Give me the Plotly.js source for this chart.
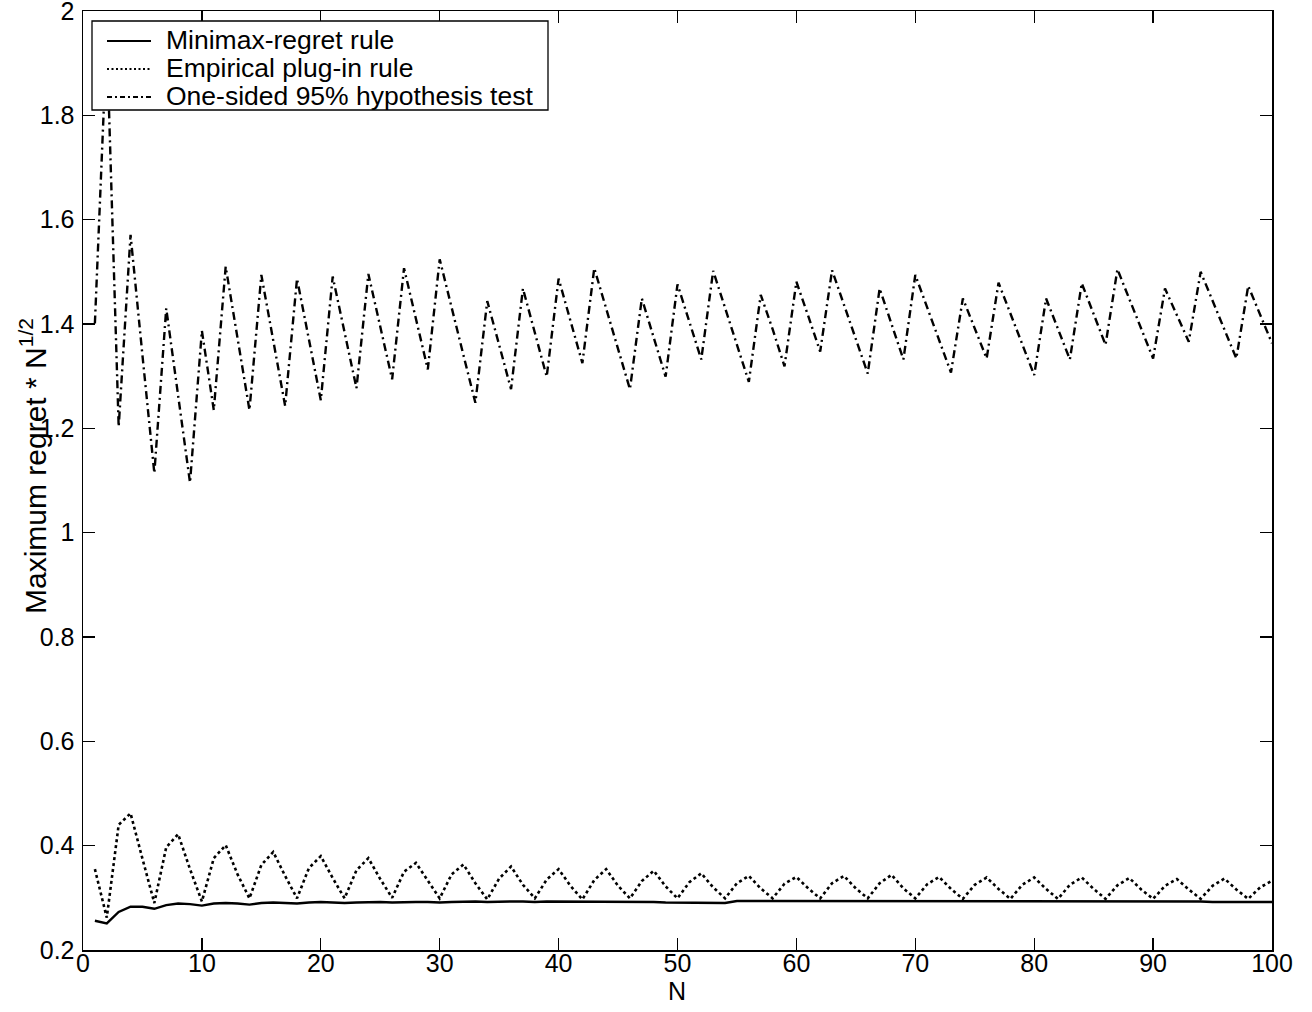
<!DOCTYPE html>
<html>
<head>
<meta charset="utf-8">
<script src="https://cdn.plot.ly/plotly-3.0.1.min.js"></script>
<style>
html,body{margin:0;padding:0;background:#fff;}
#chart{width:1312px;height:1012px;}
</style>
</head>
<body>
<div id="chart"></div>
<script>
const sampleSize = Array.from({length: 100}, (_, i) => i + 1);

const minimaxRegret = [
  0.256, 0.251, 0.273, 0.283, 0.283, 0.279, 0.286, 0.289, 0.288, 0.285,
  0.289, 0.290, 0.289, 0.287, 0.290, 0.291, 0.290, 0.289, 0.291, 0.292,
  0.291, 0.290, 0.291, 0.292, 0.292, 0.291, 0.292, 0.292, 0.292, 0.291,
  0.292, 0.293, 0.293, 0.292, 0.293, 0.293, 0.293, 0.292, 0.293, 0.293,
  0.293, 0.293, 0.293, 0.293, 0.293, 0.292, 0.292, 0.292, 0.291, 0.291,
  0.291, 0.290, 0.290, 0.290, 0.294, 0.294, 0.294, 0.294, 0.294, 0.294,
  0.294, 0.294, 0.294, 0.294, 0.294, 0.294, 0.294, 0.294, 0.294, 0.294,
  0.294, 0.294, 0.294, 0.294, 0.294, 0.294, 0.294, 0.294, 0.294, 0.294,
  0.294, 0.294, 0.294, 0.294, 0.294, 0.294, 0.294, 0.294, 0.294, 0.294,
  0.294, 0.293, 0.293, 0.293, 0.292, 0.292, 0.292, 0.292, 0.292, 0.292
];

const empiricalPlugIn = [
  0.355, 0.262, 0.440, 0.462, 0.375, 0.290, 0.397, 0.422, 0.355, 0.293,
  0.376, 0.401, 0.345, 0.299, 0.363, 0.388, 0.342, 0.299, 0.357, 0.380,
  0.338, 0.299, 0.353, 0.376, 0.336, 0.300, 0.350, 0.367, 0.333, 0.299,
  0.345, 0.364, 0.328, 0.297, 0.337, 0.360, 0.325, 0.299, 0.335, 0.355,
  0.323, 0.297, 0.334, 0.355, 0.323, 0.299, 0.332, 0.352, 0.322, 0.299,
  0.330, 0.347, 0.320, 0.299, 0.328, 0.342, 0.318, 0.299, 0.327, 0.340,
  0.318, 0.299, 0.328, 0.342, 0.318, 0.299, 0.328, 0.344, 0.318, 0.299,
  0.326, 0.340, 0.317, 0.298, 0.325, 0.339, 0.317, 0.298, 0.325, 0.339,
  0.317, 0.298, 0.325, 0.339, 0.317, 0.298, 0.324, 0.338, 0.316, 0.298,
  0.323, 0.336, 0.316, 0.298, 0.323, 0.337, 0.316, 0.298, 0.320, 0.333
];

const hypothesisTest = [
  1.401, 1.950, 1.203, 1.571, 1.340, 1.114, 1.430, 1.260, 1.096, 1.387,
  1.235, 1.510, 1.370, 1.235, 1.494, 1.370, 1.243, 1.487, 1.370, 1.254,
  1.491, 1.385, 1.277, 1.496, 1.395, 1.294, 1.507, 1.410, 1.313, 1.524,
  1.430, 1.340, 1.249, 1.444, 1.360, 1.275, 1.468, 1.385, 1.299, 1.487,
  1.405, 1.325, 1.507, 1.430, 1.350, 1.275, 1.449, 1.375, 1.299, 1.476,
  1.405, 1.332, 1.502, 1.430, 1.360, 1.289, 1.456, 1.390, 1.319, 1.481,
  1.415, 1.347, 1.503, 1.437, 1.370, 1.305, 1.468, 1.400, 1.332, 1.494,
  1.432, 1.370, 1.307, 1.449, 1.390, 1.334, 1.479, 1.420, 1.360, 1.302,
  1.449, 1.390, 1.332, 1.478, 1.420, 1.360, 1.505, 1.448, 1.390, 1.334,
  1.468, 1.417, 1.366, 1.500, 1.445, 1.390, 1.334, 1.473, 1.418, 1.363
];

const seriesNames = ['Minimax-regret rule', 'Empirical plug-in rule', 'One-sided 95% hypothesis test'];
const seriesDash = ['solid', 'dot', '8px,4px,2px,4px'];
const xTicks = [0, 10, 20, 30, 40, 50, 60, 70, 80, 90, 100];
const yTicks = [0.2, 0.4, 0.6, 0.8, 1, 1.2, 1.4, 1.6, 1.8, 2];
const xTitle = 'N';
const yTitle = 'Maximum regret * N<sup>1/2</sup>';

const FONT = 'Liberation Sans, Arial, Helvetica, sans-serif';
const W = 1312, H = 1012;
const M = {l: 83, r: 40, t: 11, b: 62};
const PW = W - M.l - M.r, PH = H - M.t - M.b;
const px2x = p => (p - M.l) / PW;
const py2y = p => (H - M.b - p) / PH;

const traces = [
  {x: sampleSize, y: minimaxRegret, name: seriesNames[0], mode: 'lines',
   line: {color: '#000', width: 2.4, dash: seriesDash[0]}},
  {x: sampleSize, y: empiricalPlugIn, name: seriesNames[1], mode: 'lines',
   line: {color: '#000', width: 2.6, dash: seriesDash[1]}},
  {x: sampleSize, y: hypothesisTest, name: seriesNames[2], mode: 'lines',
   line: {color: '#000', width: 2.4, dash: seriesDash[2]}}
];

const axisCommon = {
  showgrid: false, zeroline: false, showline: true, mirror: 'ticks',
  linecolor: '#000', linewidth: 1.5, ticks: 'inside', ticklen: 12,
  tickcolor: '#000', tickwidth: 1.2,
  tickfont: {family: FONT, size: 25, color: '#000'},
  ticklabeloverflow: 'allow',
  automargin: false
};

// legend (drawn as box + samples + labels in paper space)
const legBox = {x0: px2x(92), x1: px2x(548), y0: py2y(110), y1: py2y(21)};
const rowsPx = [41, 69, 97];
const shapes = [
  {type: 'rect', xref: 'paper', yref: 'paper', x0: legBox.x0, x1: legBox.x1, y0: legBox.y0, y1: legBox.y1,
   line: {color: '#000', width: 1.3}, fillcolor: '#fff', layer: 'above'}
];
const annotations = [];
seriesNames.forEach((nm, i) => {
  shapes.push({type: 'line', xref: 'paper', yref: 'paper',
    x0: px2x(107), x1: px2x(151), y0: py2y(rowsPx[i]), y1: py2y(rowsPx[i]),
    line: {color: '#000', width: 2.2, dash: i === 1 ? '2px,2.5px' : (i === 2 ? '5px,3px,2px,3px' : 'solid')},
    layer: 'above'});
  annotations.push({xref: 'paper', yref: 'paper', x: px2x(164), y: py2y(rowsPx[i] - 1),
    xanchor: 'left', yanchor: 'middle', showarrow: false, text: nm,
    font: {family: FONT, size: 26.5, color: '#000'}});
});
annotations.push({xref: 'paper', yref: 'paper', x: px2x(33), y: py2y(466),
  xanchor: 'center', yanchor: 'middle', showarrow: false, textangle: -90, text: yTitle,
  font: {family: FONT, size: 30, color: '#000'}});
annotations.push({xref: 'paper', yref: 'paper', x: px2x(677), y: py2y(991),
  xanchor: 'center', yanchor: 'middle', showarrow: false, text: xTitle,
  font: {family: FONT, size: 25, color: '#000'}});

const layout = {
  width: W, height: H,
  margin: M,
  paper_bgcolor: '#fff', plot_bgcolor: '#fff',
  font: {family: FONT, size: 25, color: '#000'},
  showlegend: false,
  xaxis: Object.assign({}, axisCommon, {
    range: [0, 100], tickvals: xTicks, ticktext: xTicks.map(String), ticklabelstandoff: -10
  }),
  yaxis: Object.assign({}, axisCommon, {
    range: [0.2, 2], tickvals: yTicks, ticktext: yTicks.map(String), ticklabelstandoff: 2
  }),
  shapes: shapes,
  annotations: annotations
};

Plotly.newPlot('chart', traces, layout, {displayModeBar: false, staticPlot: true});
</script>
</body>
</html>
